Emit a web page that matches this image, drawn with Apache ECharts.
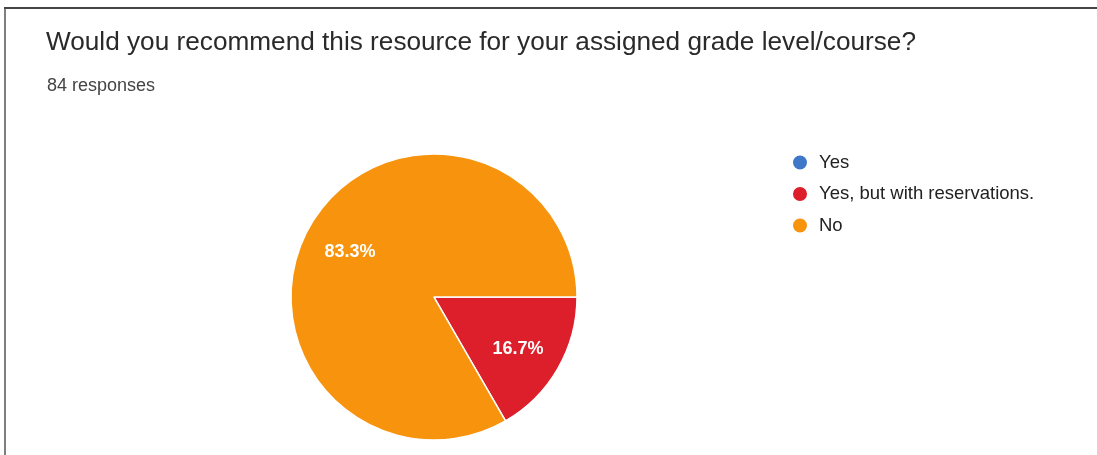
<!DOCTYPE html>
<html>
<head>
<meta charset="utf-8">
<script src="https://cdn.jsdelivr.net/npm/echarts@6/dist/echarts.min.js"></script>
<style>
html,body{margin:0;padding:0;background:#fff;}
#chart{width:1097px;height:455px;}
</style>
</head>
<body>
<div id="chart"></div>
<script>
var titleText = "Would you recommend this resource for your assigned grade level/course?";
var subtitleText = "84 responses";
var categories = ["Yes", "Yes, but with reservations.", "No"];
var counts = [0, 14, 70];
var colors = ["#3f78c8", "#dc1f2a", "#f7930c"];

var pieData = categories.map(function (c, i) {
  return { name: c, value: counts[i], itemStyle: { color: colors[i] } };
});
var total = counts.reduce(function (a, b) { return a + b; }, 0);

var chart = echarts.init(document.getElementById('chart'), null, { renderer: 'canvas' });
chart.setOption({
  backgroundColor: '#ffffff',
  animation: false,
  graphic: [
    { type: 'line', shape: { x1: 4, y1: 8, x2: 1097, y2: 8 }, style: { stroke: '#444', lineWidth: 2 } },
    { type: 'line', shape: { x1: 5, y1: 8, x2: 5, y2: 455 }, style: { stroke: '#555', lineWidth: 1.5 } }
  ],
  title: [
    { text: titleText, left: 46, top: 30, padding: 0, textStyle: { fontFamily: 'Liberation Sans', fontSize: 26.2, fontWeight: 'normal', color: '#2a2a2a' } },
    { text: subtitleText, left: 47, top: 77, padding: 0, textStyle: { fontFamily: 'Liberation Sans', fontSize: 18, fontWeight: 'normal', color: '#444' } }
  ],
  legend: {
    orient: 'vertical',
    left: 791,
    top: 153,
    padding: 0,
    icon: 'circle',
    itemWidth: 16,
    itemHeight: 16,
    itemGap: 12.5,
    data: categories,
    textStyle: { fontFamily: 'Liberation Sans', fontSize: 18.5, color: '#222', padding: [0, 0, 0, 6] },
    selectedMode: false
  },
  series: [
    {
      type: 'pie',
      center: [434, 297],
      radius: [0, 143],
      startAngle: 0,
      clockwise: true,
      silent: true,
      data: pieData,
      itemStyle: { borderColor: '#fff', borderWidth: 1.5 },
      label: { show: false },
      labelLine: { show: false }
    },
    {
      type: 'pie',
      center: [434, 297],
      radius: [0, 188],
      startAngle: 0,
      clockwise: true,
      silent: true,
      data: pieData.map(function (d) {
        return { name: d.name, value: d.value, itemStyle: { color: 'rgba(0,0,0,0)' }, label: { show: d.value > 0 } };
      }),
      itemStyle: { borderWidth: 0 },
      label: {
        position: 'inside',
        offset: [0, 4],
        formatter: function (p) { return (p.value / total * 100).toFixed(1) + '%'; },
        fontFamily: 'Liberation Sans',
        fontSize: 18,
        fontWeight: 'bold',
        color: '#ffffff'
      },
      labelLine: { show: false }
    }
  ]
});
</script>
</body>
</html>
